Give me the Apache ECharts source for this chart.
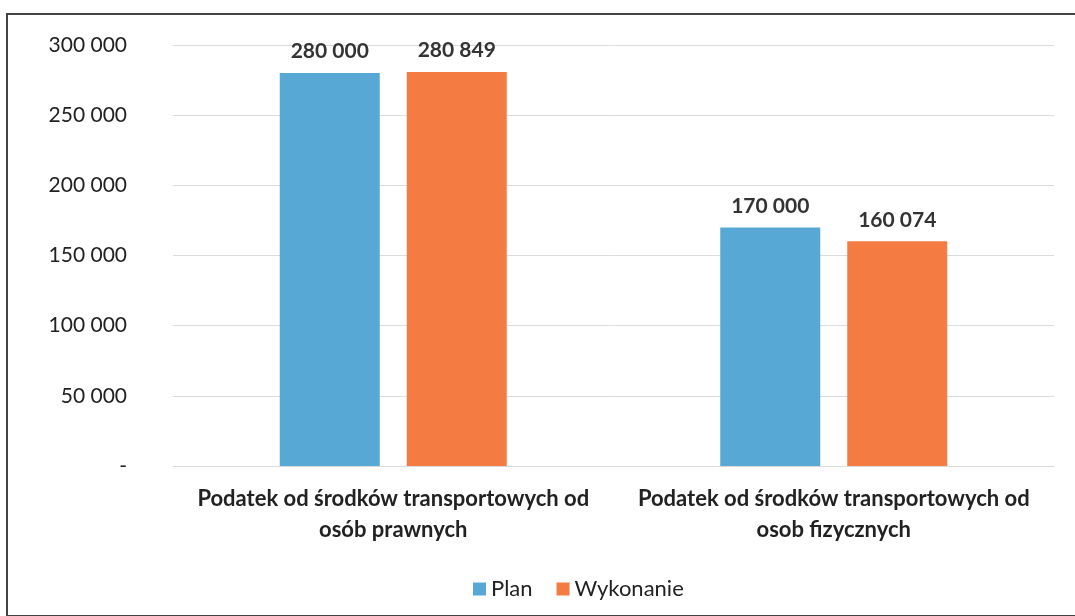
<!DOCTYPE html>
<html>
<head>
<meta charset="utf-8">
<script src="https://cdn.jsdelivr.net/npm/echarts@6/dist/echarts.min.js"></script>
<style>
  html, body { margin: 0; padding: 0; background: #fff; }
  #frame {
    position: absolute;
    left: 6px;
    top: 13px;
    width: 1075px;
    height: 600px;
    border-left: 2px solid #444;
    border-top: 2px solid #444;
    border-bottom: 2px solid #444;
  }
  #chart { position: absolute; left: 0; top: 0; width: 1075px; height: 616px; }
</style>
</head>
<body>
<div id="frame"></div>
<div id="chart"></div>
<script>
// Chart data
const categories = [
  'Podatek od środków transportowych od\nosób prawnych',
  'Podatek od środków transportowych od\nosob fizycznych',
];
const planValues = [280000, 170000];
const wykonanieValues = [280849, 160074];

const fontFamily = 'Lato, "Noto Sans", sans-serif';

const formatNumber = (v) => {
  if (v === 0) return '-';
  return String(v).replace(/\B(?=(\d{3})+(?!\d))/g, ' ');
};

const valueLabel = {
  show: true,
  position: 'top',
  distance: 11,
  fontSize: 21,
  fontWeight: 'bold',
  color: '#333',
  fontFamily,
  formatter: (p) => formatNumber(p.value),
};

const chart = echarts.init(document.getElementById('chart'));

chart.setOption({
  animation: false,
  color: ['#58a8d6', '#f47b42'],
  textStyle: { fontFamily },
  legend: {
    data: ['Plan', 'Wykonanie'],
    bottom: 11,
    left: 468,
    icon: 'rect',
    itemWidth: 13,
    itemHeight: 13,
    itemGap: 24,
    textStyle: { fontSize: 22, color: '#222', fontFamily },
  },
  grid: {
    left: 173,
    right: 21,
    top: 45,
    bottom: 150,
  },
  xAxis: {
    type: 'category',
    data: categories,
    axisLine: { show: true, lineStyle: { color: '#d9d9d9' } },
    axisTick: { show: false },
    axisLabel: {
      interval: 0,
      hideOverlap: false,
      margin: 17,
      fontSize: 22,
      fontWeight: 'bold',
      color: '#222',
      lineHeight: 31,
      fontFamily,
    },
  },
  yAxis: {
    type: 'value',
    min: 0,
    max: 300000,
    interval: 50000,
    axisLine: { show: false },
    axisTick: { show: false },
    splitLine: { lineStyle: { color: '#dcdcdc' } },
    axisLabel: {
      margin: 46,
      fontSize: 21,
      color: '#222',
      fontFamily,
      formatter: formatNumber,
    },
  },
  series: [
    {
      name: 'Plan',
      type: 'bar',
      data: planValues,
      barWidth: 100,
      barGap: '27%',
      label: valueLabel,
    },
    {
      name: 'Wykonanie',
      type: 'bar',
      data: wykonanieValues,
      barWidth: 100,
      barGap: '27%',
      label: valueLabel,
    },
  ],
});

window.addEventListener('resize', () => chart.resize());
</script>
</body>
</html>
